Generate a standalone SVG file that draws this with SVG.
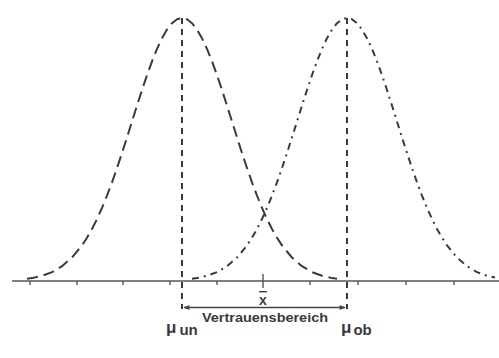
<svg xmlns="http://www.w3.org/2000/svg" width="499" height="358" viewBox="0 0 499 358">
<style>
.curve{fill:none;stroke:#3a3a3a;stroke-width:2;stroke-linecap:butt;stroke-linejoin:round}
.dash{stroke-dasharray:11 6}
.dashdot{stroke-dasharray:7 5 2 5}
.vline{fill:none;stroke:#3a3a3a;stroke-width:2;stroke-dasharray:6 5}
.axis{stroke:#555;stroke-width:1.6;fill:none}
.tick{stroke:#555;stroke-width:1.4}
.lbl{font-family:"Liberation Sans",Arial,sans-serif;font-weight:bold;fill:#3a3a3a}
</style>
<defs>
<marker id="ah" viewBox="0 0 10 10" refX="9" refY="5" markerWidth="7" markerHeight="6" orient="auto-start-reverse" markerUnits="userSpaceOnUse">
<path d="M0,1 L10,5 L0,9 z" fill="#444"/>
</marker>
</defs>
<rect width="499" height="358" fill="#fff"/>
<g id="axis">
<line class="axis" x1="12" y1="281" x2="499" y2="281"/>
<g class="tick">
<line x1="30" y1="281" x2="30" y2="285"/>
<line x1="77" y1="281" x2="77" y2="285"/>
<line x1="123" y1="281" x2="123" y2="285"/>
<line x1="170" y1="281" x2="170" y2="285"/>
<line x1="217" y1="281" x2="217" y2="285"/>
<line x1="310" y1="281" x2="310" y2="285"/>
<line x1="358" y1="281" x2="358" y2="285"/>
<line x1="406" y1="281" x2="406" y2="285"/>
<line x1="454" y1="281" x2="454" y2="285"/>
<line x1="263" y1="274" x2="263" y2="288"/>
</g>
</g>
<g id="curve-un">
<path class="curve dash" d="M27,278.8 L32,278.1 L42,275.8 L52,272.1 L62,266.2 L72,257.6 L82,245.4 L87,237.7 L92,229 L97,219 L102,207.9 L107,195.6 L112,182.3 L117,168 L122,153 L127,137.4 L132,121.5 L137,105.6 L142,90 L147,75.1 L152,61.3 L157,48.9 L162,38.2 L167,29.6 L172,23.2 L177,19.3 L182,18 L187,19.3 L192,23.2 L197,29.6 L202,38.2 L207,48.9 L212,61.3 L217,75.1 L222,90 L227,105.6 L232,121.5 L237,137.4 L242,153 L247,168 L252,182.3 L257,195.6 L262,207.9 L267,219 L272,229 L277,237.7 L282,245.4 L292,257.6 L302,266.2 L312,272.1 L322,275.8 L332,278.1 L337,278.8"/>
</g>
<g id="curve-ob">
<path class="curve dashdot" d="M192,278.8 L197,278.1 L207,275.8 L217,272.1 L227,266.2 L237,257.6 L247,245.4 L252,237.7 L257,229 L262,219 L267,207.9 L272,195.6 L277,182.3 L282,168 L287,153 L292,137.4 L297,121.5 L302,105.6 L307,90 L312,75.1 L317,61.3 L322,48.9 L327,38.2 L332,29.6 L337,23.2 L342,19.3 L347,18 L352,19.3 L357,23.2 L362,29.6 L367,38.2 L372,48.9 L377,61.3 L382,75.1 L387,90 L392,105.6 L397,121.5 L402,137.4 L407,153 L412,168 L417,182.3 L422,195.6 L427,207.9 L432,219 L437,229 L442,237.7 L447,245.4 L457,257.6 L467,266.2 L477,272.1 L487,275.8 L495,277.6"/>
</g>
<g id="connectors">
<line class="vline" x1="182" y1="18" x2="182" y2="309"/>
<line class="vline" x1="347" y1="18" x2="347" y2="309"/>
<line x1="184" y1="307.5" x2="345" y2="307.5" stroke="#444" stroke-width="1.6" marker-start="url(#ah)" marker-end="url(#ah)"/>
</g>
<g id="labels">
<text class="lbl" x="263" y="305" font-size="14" text-anchor="middle" text-decoration="overline">x</text>
<text class="lbl" x="265" y="322" font-size="12" text-anchor="middle" textLength="126" lengthAdjust="spacingAndGlyphs">Vertrauensbereich</text>
<text class="lbl" x="166" y="333" font-size="17">μ<tspan font-size="15" dx="3" dy="2">un</tspan></text>
<text class="lbl" x="341" y="333" font-size="17">μ<tspan font-size="15" dx="2" dy="2">ob</tspan></text>
</g>
</svg>
